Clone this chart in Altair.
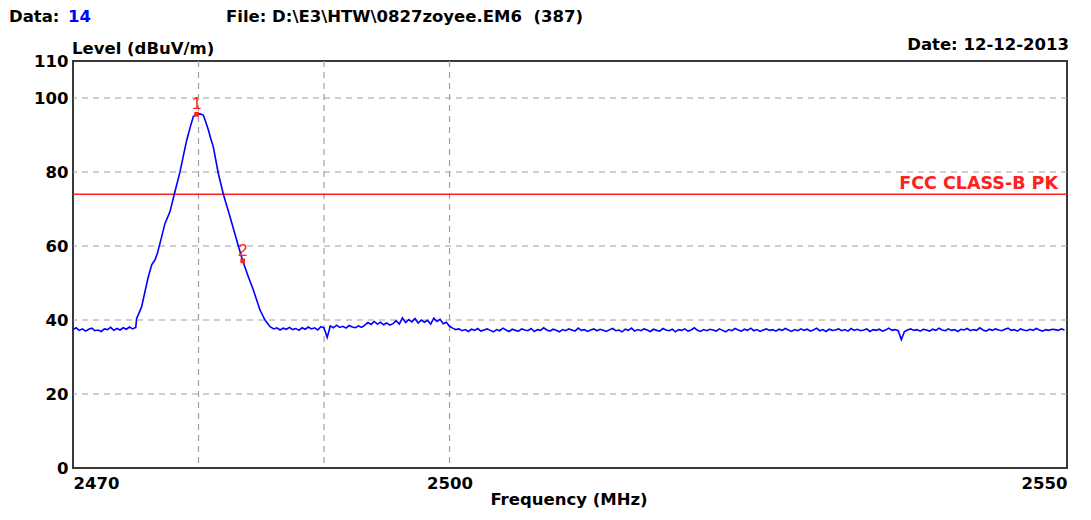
import altair as alt
import pandas as pd

# ---------------- data ----------------
X_DOMAIN = [2470, 2549.2]
Y_DOMAIN = [0, 110]
x_tick_values = [2470, 2500, 2549.2]
y_tick_values = [0, 20, 40, 60, 80, 100, 110]
h_grid = [20, 40, 60, 80, 100]
v_grid = [2480, 2490, 2500]
limit_level = [74]
limit_name = "FCC CLASS-B PK"

# noise floor left of the carrier (start 2470.0, step 0.25 MHz)
left_start, step = 2470.0, 0.25
left_noise = [37.4, 37.9, 37.2, 37.6, 37.0, 37.5, 37.8, 37.1, 37.3, 36.9,
              37.6, 37.4, 38.0, 37.2, 37.7, 37.3, 37.9, 37.5, 38.1, 37.6, 38.0]

# carrier peak (explicit frequencies)
peak_freq = [2475.07, 2475.25, 2475.47, 2475.75, 2476.00, 2476.28, 2476.53, 2476.72,
             2476.93, 2477.33, 2477.73, 2478.07, 2478.53, 2478.80, 2479.06, 2479.33,
             2479.59, 2479.85, 2480.12, 2480.38, 2480.58, 2480.78, 2480.98, 2481.18,
             2481.58, 2481.98, 2482.51, 2483.04, 2483.52, 2483.97, 2484.37, 2484.90,
             2485.30, 2485.70]
peak_level = [40.4, 41.8, 43.6, 47.9, 51.7, 55.0, 56.2, 58.0,
              60.7, 66.1, 69.3, 74.0, 80.1, 84.5, 88.6, 92.0,
              95.0, 95.6, 95.7, 95.4, 93.5, 91.4, 89.0, 86.8,
              79.6, 74.0, 67.9, 61.6, 56.0, 51.7, 48.1, 42.7,
              40.0, 38.2]

# noise between carrier and 2500 MHz (start 2486.0)
mid_start = 2486.0
mid_noise = [37.6, 37.9, 37.3, 37.8, 37.5, 38.0, 37.4, 37.7, 37.2, 37.9,
             37.5, 38.1, 37.6, 37.9, 37.3, 38.2, 37.9, 35.3, 38.4, 37.9,
             38.6, 38.0, 38.3, 37.8, 38.5, 38.1, 37.9, 38.4, 38.0, 38.6,
             39.3, 38.8, 39.6, 38.9, 39.4, 38.7, 39.2, 38.6, 39.0, 39.8,
             38.9, 40.6, 39.3, 40.1, 39.5, 40.4, 39.2, 40.0, 39.4, 39.9,
             38.9, 40.5, 39.6, 40.2, 39.0, 39.4, 38.3, 37.8, 37.4]

# noise above 2500 MHz (start 2500.75)
right_start = 2500.75
right_noise = [37.6, 37.1, 37.4, 36.9, 37.5, 37.2, 37.7, 37.0, 37.3, 37.6,
               37.2, 36.8, 37.4, 37.1, 37.8, 37.3, 36.9, 37.5, 37.2, 37.0,
               37.6, 37.3, 37.1, 37.7, 36.9, 37.4, 37.2, 37.9, 37.3, 37.0,
               37.5, 37.2, 36.8, 37.4, 37.1, 37.6, 37.3, 37.0, 37.8, 37.2,
               37.4, 36.9, 37.3, 37.6, 37.1, 37.5, 37.2, 36.9, 37.4, 37.7,
               37.1, 37.3, 36.8, 37.5, 37.2, 37.8, 37.0, 37.4, 37.1, 37.6,
               37.3, 36.9, 37.5, 37.2, 37.0, 37.7, 37.3, 37.1, 37.5, 36.8,
               37.4, 37.2, 37.6, 37.0, 37.3, 37.9, 37.2, 36.9, 37.4, 37.1,
               37.5, 37.3, 37.0, 37.6, 37.2, 36.8, 37.4, 37.1, 37.7, 37.3,
               37.0, 37.5, 37.2, 37.8, 37.1, 37.4, 36.9, 37.3, 37.6, 37.2,
               37.4, 37.0, 37.5, 37.2, 37.7, 37.3, 36.9, 37.4, 37.1, 37.6,
               37.2, 37.5, 37.0, 37.3, 37.8, 37.1, 37.4, 36.9, 37.5, 37.2,
               37.3, 37.6, 37.1, 37.4, 37.0, 37.7, 37.2, 37.5, 37.1, 37.3,
               37.6, 36.9, 37.4, 37.2, 37.5, 37.0, 37.3, 37.8, 37.2, 37.4,
               37.1, 34.7, 36.9, 37.3, 37.6, 37.2, 37.4, 37.0, 37.5, 37.3,
               37.0, 37.5, 37.2, 37.8, 37.3, 37.1, 37.6, 37.2, 37.4, 36.9,
               37.5, 37.3, 37.7, 37.1, 37.4, 37.2, 37.9, 37.3, 37.0, 37.5,
               37.2, 37.6, 37.3, 37.1, 37.5, 37.8, 37.2, 37.4, 37.0, 37.6,
               37.3, 37.1, 37.5, 37.2, 37.7, 37.3, 37.0, 37.4, 37.2, 37.5,
               37.4, 37.2, 37.6, 37.3]

marker_id = ["1", "2"]
marker_freq = [2479.85, 2483.52]
marker_level = [95.6, 56.0]

# ---------------- build tables ----------------
def grid_segment(start, vals):
    return [(start + step * i, v) for i, v in enumerate(vals)]

rows = (grid_segment(left_start, left_noise)
        + list(zip(peak_freq, peak_level))
        + grid_segment(mid_start, mid_noise)
        + grid_segment(right_start, right_noise))
trace = pd.DataFrame(rows, columns=["freq", "level"]).sort_values("freq")
markers = pd.DataFrame({"id": marker_id, "freq": marker_freq, "level": marker_level})

RED = "#ff2020"
BLUE = "#0000ff"
FONT = "DejaVu Sans"

xs = alt.Scale(domain=X_DOMAIN, nice=False, zero=False)
ys = alt.Scale(domain=Y_DOMAIN, nice=False, zero=False)

x_axis = alt.Axis(values=x_tick_values, labelExpr="datum.value > 2549 ? '2550' : datum.label",
                  labelFlush=True, labelFlushOffset=0, grid=False, ticks=False, domain=False,
                  labelFont=FONT, labelFontWeight="bold", labelFontSize=16.5, labelColor="black",
                  labelPadding=7, title=None, format="d")
y_axis = alt.Axis(values=y_tick_values, grid=False, ticks=False, domain=False,
                  labelFont=FONT, labelFontWeight="bold", labelFontSize=16.5, labelColor="black",
                  labelPadding=5, title=None, labelOverlap=False)


def X(field):
    return alt.X(field, scale=xs, axis=x_axis, title=None)


def Y(field):
    return alt.Y(field, scale=ys, axis=y_axis, title=None)


hgrid = alt.Chart(pd.DataFrame({"level": h_grid})).mark_rule(
    color="#a0a0a0", strokeWidth=1.2, strokeDash=[6, 5]
).encode(y=Y("level:Q"))

vgrid = alt.Chart(pd.DataFrame({"freq": v_grid})).mark_rule(
    color="#a0a0a0", strokeWidth=1.2, strokeDash=[6, 5]
).encode(x=X("freq:Q"))

limit = alt.Chart(pd.DataFrame({"level": limit_level})).mark_rule(
    color=RED, strokeWidth=1.5
).encode(y=Y("level:Q"))

limit_text = alt.Chart(pd.DataFrame({"level": limit_level, "name": [limit_name]})).mark_text(
    align="right", baseline="alphabetic", dy=-5, font=FONT, fontWeight="bold",
    fontSize=17.5, color=RED
).encode(x=alt.value(985), y=Y("level:Q"), text="name:N")

line = alt.Chart(trace).mark_line(color=BLUE, strokeWidth=1.6).encode(
    x=X("freq:Q"), y=Y("level:Q"),
)

mk = alt.Chart(markers).mark_square(color=RED, size=22, opacity=1).encode(
    x=X("freq:Q"), y=Y("level:Q"),
)
mk_text = alt.Chart(markers).mark_text(
    baseline="alphabetic", dy=-5, font="Liberation Sans", fontSize=17, color=RED
).encode(x=X("freq:Q"), y=Y("level:Q"), text="id:N")


def note(text, x, y, color="black", align="left", size=16.5):
    return alt.Chart(pd.DataFrame({"t": [text]})).mark_text(
        align=align, baseline="middle", font=FONT, fontWeight="bold",
        fontSize=size, color=color
    ).encode(x=alt.value(x), y=alt.value(y), text="t:N")


texts = [
    note("Data:", -64, -44),
    note("14", -5, -44, color=BLUE),
    note("File: D:\\E3\\HTW\\0827zoyee.EM6\u00a0\u00a0(387)", 153, -44),
    note("Level (dBuV/m)", -1, -12),
    note("Date: 12-12-2013", 996, -16, align="right"),
    note("Frequency (MHz)", 496, 439, align="center"),
]

chart = alt.layer(hgrid, vgrid, limit, limit_text, line, mk, mk_text, *texts).properties(
    width=994, height=407,
    autosize=alt.AutoSizeParams(type="none"),
    padding={"left": 65, "top": 53, "right": 16, "bottom": 44},
    background="white",
).configure_view(stroke="#383838", strokeWidth=2)

chart.save("out.html", embed_options={"renderer": "svg", "actions": False})
